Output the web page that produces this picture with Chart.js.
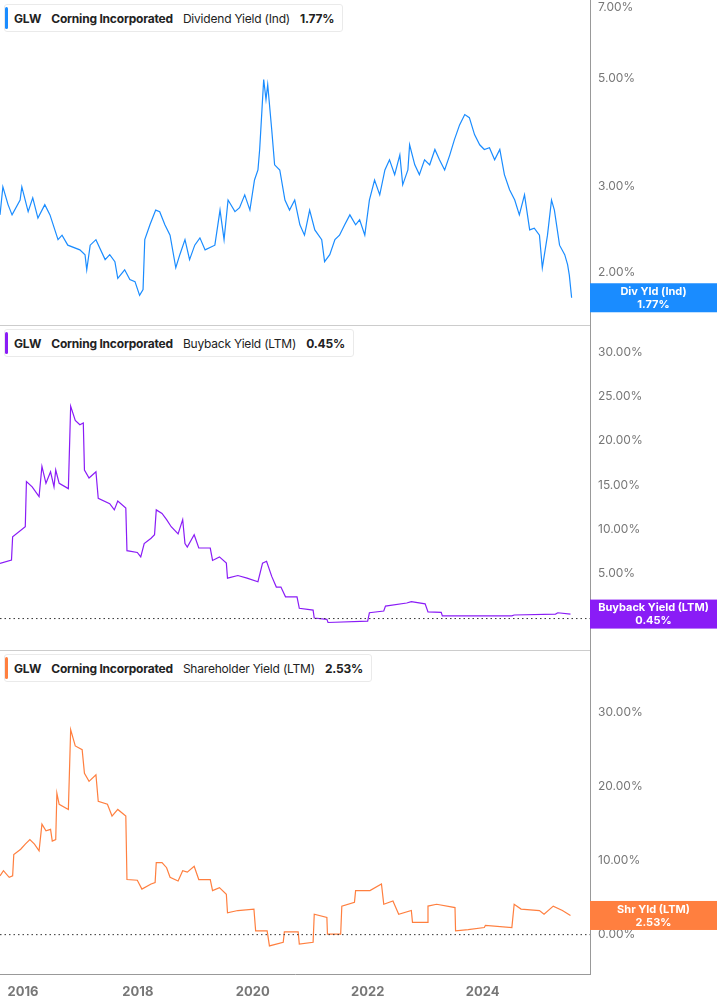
<!DOCTYPE html>
<html><head><meta charset="utf-8">
<script src="https://cdn.jsdelivr.net/npm/chart.js@4/dist/chart.umd.min.js"></script>
<style>
body{margin:0;width:717px;height:1005px;background:#fff;font-family:Inter,Roboto,"Noto Sans",sans-serif;overflow:hidden;position:relative}
.p{position:absolute;left:0;width:717px}
.sep{position:absolute;left:0;width:590px;height:1px;background:#ccc}
.lg{position:absolute;left:4px;height:26px;background:#fff;border:1px solid #eaeaea;border-radius:3px;display:flex;align-items:center;font-size:12px;color:#222;padding:0 8px 0 9px;white-space:nowrap;letter-spacing:-0.2px}
.lg .bar{position:absolute;left:0;top:2px;bottom:2px;width:3px;border-radius:2px}
.lg b{font-weight:700;margin-right:10px}
.lg span{margin-right:10px}
</style></head><body>
<div class="p" style="top:0;height:325px"><canvas id="c1"></canvas></div>
<div class="p" style="top:325px;height:325px"><canvas id="c2"></canvas></div>
<div class="p" style="top:650px;height:355px"><canvas id="c3"></canvas></div>
<div class="sep" style="top:325px"></div><div class="sep" style="top:650px"></div>
<div class="lg" style="top:4px"><div class="bar" style="background:#1a8cff"></div><b>GLW</b><b>Corning Incorporated</b><span>Dividend Yield (Ind)</span><b style="margin-right:0">1.77%</b></div>
<div class="lg" style="top:329px"><div class="bar" style="background:#8a1cf6"></div><b>GLW</b><b>Corning Incorporated</b><span>Buyback Yield (LTM)</span><b style="margin-right:0">0.45%</b></div>
<div class="lg" style="top:654px"><div class="bar" style="background:#ff7f3f"></div><b>GLW</b><b>Corning Incorporated</b><span>Shareholder Yield (LTM)</span><b style="margin-right:0">2.53%</b></div>
<script>
// ---- Data (decimal years, percent) ----
const divDates=[2015.60,2015.65,2015.74,2015.81,2015.95,2015.98,2016.09,2016.17,2016.26,2016.38,2016.47,2016.61,2016.68,2016.78,2016.99,2017.08,2017.11,2017.17,2017.27,2017.43,2017.51,2017.60,2017.65,2017.77,2017.86,2017.95,2018.03,2018.09,2018.12,2018.21,2018.31,2018.38,2018.47,2018.56,2018.66,2018.73,2018.82,2018.90,2018.99,2019.08,2019.17,2019.34,2019.43,2019.50,2019.57,2019.69,2019.77,2019.86,2019.95,2020.03,2020.09,2020.12,2020.16,2020.19,2020.23,2020.26,2020.33,2020.38,2020.47,2020.56,2020.64,2020.73,2020.82,2020.90,2020.99,2021.08,2021.20,2021.25,2021.34,2021.43,2021.51,2021.60,2021.69,2021.79,2021.86,2021.95,2022.03,2022.12,2022.21,2022.30,2022.38,2022.47,2022.56,2022.61,2022.70,2022.73,2022.82,2022.90,2022.99,2023.08,2023.17,2023.25,2023.34,2023.43,2023.51,2023.60,2023.69,2023.77,2023.86,2023.95,2024.03,2024.12,2024.21,2024.30,2024.38,2024.47,2024.56,2024.64,2024.73,2024.82,2024.90,2024.99,2025.04,2025.13,2025.20,2025.25,2025.34,2025.43,2025.48,2025.51,2025.55];
const divYield=[2.62,2.99,2.75,2.62,2.81,2.99,2.66,2.84,2.58,2.75,2.62,2.33,2.38,2.27,2.22,2.17,2.02,2.27,2.33,2.12,2.17,2.10,1.94,2.02,1.93,1.91,1.79,1.84,2.33,2.50,2.68,2.66,2.50,2.38,2.04,2.17,2.33,2.12,2.27,2.35,2.22,2.27,2.68,2.33,2.81,2.66,2.71,2.88,2.68,3.09,3.24,3.57,4.31,4.97,4.52,4.85,3.92,3.32,3.24,2.81,2.68,2.81,2.50,2.38,2.68,2.44,2.33,2.10,2.17,2.33,2.38,2.50,2.62,2.50,2.56,2.38,2.81,3.09,2.88,3.24,3.40,3.17,3.48,3.02,3.24,3.65,3.32,3.17,3.40,3.32,3.57,3.40,3.24,3.48,3.74,4.01,4.21,4.15,3.83,3.65,3.57,3.60,3.40,3.57,3.17,2.95,2.81,2.62,2.88,2.44,2.46,2.38,2.04,2.38,2.81,2.68,2.27,2.17,2.07,1.97,1.77];
const bbDates=[2015.60,2015.80,2015.82,2016.04,2016.06,2016.16,2016.28,2016.33,2016.40,2016.48,2016.54,2016.57,2016.63,2016.79,2016.83,2016.91,2016.99,2017.05,2017.07,2017.15,2017.27,2017.31,2017.51,2017.59,2017.65,2017.79,2017.81,2017.99,2018.05,2018.11,2018.23,2018.29,2018.32,2018.42,2018.50,2018.58,2018.70,2018.78,2018.82,2018.86,2018.98,2019.06,2019.26,2019.30,2019.42,2019.54,2019.56,2019.74,2019.90,2020.09,2020.17,2020.24,2020.33,2020.41,2020.49,2020.57,2020.77,2020.81,2021.05,2021.07,2021.29,2021.31,2022.00,2022.03,2022.28,2022.31,2022.68,2022.76,2023.00,2023.05,2023.28,2023.30,2024.51,2024.55,2025.27,2025.31,2025.53];
const buybackYield=[6.17,6.54,9.17,10.3,15.4,14.8,13.7,17.1,15.2,16.5,14.8,16.7,15.2,14.6,23.9,22.3,21.8,22.0,16.7,15.8,16.5,13.5,12.9,12.2,13.2,12.4,7.6,7.4,6.9,8.4,9.0,9.4,12.2,11.8,11.1,10.3,9.5,11.1,8.4,8.0,9.4,7.9,7.9,6.5,6.9,6.2,4.5,4.8,4.5,4.1,6.2,6.4,4.7,3.5,3.5,2.4,2.4,1.1,0.9,0.0,-0.15,-0.5,-0.35,0.6,0.8,1.35,1.7,1.85,1.6,0.7,0.65,0.25,0.25,0.35,0.45,0.6,0.45];
const shDates=[2015.60,2015.66,2015.76,2015.82,2015.84,2015.96,2016.04,2016.12,2016.20,2016.28,2016.33,2016.40,2016.48,2016.51,2016.57,2016.59,2016.63,2016.79,2016.83,2016.91,2017.03,2017.07,2017.15,2017.27,2017.31,2017.47,2017.55,2017.65,2017.79,2017.81,2017.99,2018.07,2018.23,2018.30,2018.32,2018.42,2018.50,2018.56,2018.70,2018.78,2018.86,2018.98,2019.06,2019.26,2019.30,2019.42,2019.54,2019.56,2019.74,2020.02,2020.05,2020.25,2020.29,2020.53,2020.55,2020.79,2020.81,2021.05,2021.07,2021.29,2021.30,2021.53,2021.55,2021.77,2021.79,2022.04,2022.24,2022.28,2022.44,2022.54,2022.76,2022.78,2023.04,2023.05,2023.20,2023.52,2023.53,2023.75,2024.03,2024.05,2024.51,2024.55,2024.67,2024.99,2025.07,2025.23,2025.39,2025.53];
const shYield=[7.9,8.6,7.7,7.9,10.8,11.5,12.2,12.8,12.2,11.3,14.9,14.0,14.2,12.6,12.8,19.1,17.6,16.9,27.7,25.5,25.0,21.8,20.7,21.6,18.0,17.6,16.0,16.9,16.0,7.4,7.3,6.1,6.8,7.0,9.7,9.7,9.0,7.7,7.2,8.6,8.4,9.2,7.4,7.4,5.9,6.3,5.4,2.9,3.2,3.4,0.45,0.45,-1.6,-1.1,0.3,0.3,-1.35,-1.1,2.7,2.25,0.0,0.0,3.8,4.3,5.9,5.9,6.8,4.05,4.5,2.7,3.2,1.6,1.6,3.8,4.05,3.6,0.45,0.6,0.9,1.2,0.9,4.05,3.4,3.2,2.7,3.8,3.2,2.53];
const yearTicks=[2016,2018,2020,2022,2024];
const divTicks=[2,3,5,7];
const bbTicks=[0,5,10,15,20,25,30];
const shTicks=[0,10,20,30];

const font="Inter, Roboto, sans-serif";
const pts=(d,v)=>d.map((x,i)=>({x,y:v[i]}));
function labelPlugin(txt,val,color,zeroLine){
  return {id:'lbl',afterDraw(ch){
    const c=ch.ctx,y=ch.scales.y,a=ch.chartArea;
    if(zeroLine){const p=y.getPixelForValue(0);c.save();c.setLineDash([1.5,3]);c.strokeStyle='#333';c.lineWidth=1;c.beginPath();c.moveTo(0,p+0.5);c.lineTo(a.right,p+0.5);c.stroke();c.restore();}
    const p=y.getPixelForValue(val);c.save();c.fillStyle=color;c.fillRect(a.right,p-14.5,ch.width-a.right,29);
    c.fillStyle='#fff';c.font='bold 11px '+font;c.textAlign='center';c.textBaseline='middle';
    const cx=(a.right+ch.width)/2;c.fillText(txt,cx,p-6);c.fillText(val.toFixed(2)+'%',cx,p+7);c.restore();
  }};
}
function make(id,dates,vals,color,yopt,ticks,showX,txt,last,zero){
  const xs={type:'linear',min:2015.6,max:2025.87,display:showX,
    grid:{display:false,drawTicks:true,tickLength:6,tickColor:'#999'},
    border:{display:true,color:'#999'},
    afterBuildTicks:s=>{s.ticks=yearTicks.map(v=>({value:v}))},
    ticks:{color:'#777',font:{family:font,size:13,weight:'bold'},padding:4,maxRotation:0,callback:v=>String(v)},
    afterFit:s=>{if(showX)s.height=31;s.paddingLeft=0;s.paddingRight=0}};
  const ys=Object.assign({position:'right',grid:{display:false,drawTicks:true,tickLength:4,tickColor:'#999'},
    border:{display:true,color:'#999'},
    afterBuildTicks:s=>{s.ticks=ticks.map(v=>({value:v}))},
    ticks:{color:'#777',font:{family:font,size:12},padding:4,callback:v=>Number(v).toFixed(2)+'%'},
    afterFit:s=>{s.width=127;s.paddingTop=0;s.paddingBottom=0}},yopt);
  new Chart(document.getElementById(id),{type:'line',
    data:{datasets:[{data:pts(dates,vals),borderColor:color,borderWidth:1.2,pointRadius:0,tension:0,fill:false,clip:false}]},
    options:{responsive:true,maintainAspectRatio:false,animation:false,layout:{padding:0},
      plugins:{legend:{display:false},tooltip:{enabled:false}},
      scales:{x:xs,y:ys}},
    plugins:[labelPlugin(txt,last,color,zero)]});
}
make('c1',divDates,divYield,'#1a8cff',{type:'logarithmic',min:1.556,max:7.24},divTicks,false,'Div Yld (Ind)',1.77,false);
make('c2',bbDates,buybackYield,'#8a1cf6',{type:'linear',min:-3.6,max:33.05},bbTicks,false,'Buyback Yield (LTM)',0.45,true);
make('c3',shDates,shYield,'#ff7f3f',{type:'linear',min:-5.4,max:38.5},shTicks,true,'Shr Yld (LTM)',2.53,true);
</script></body></html>
